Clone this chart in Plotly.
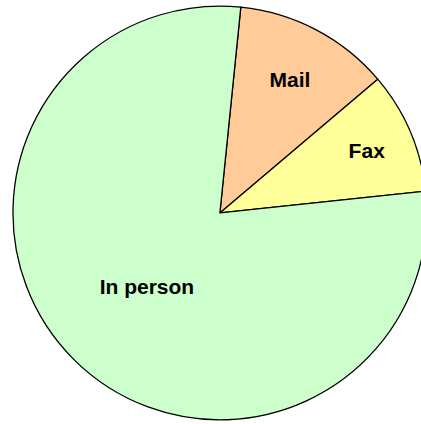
import plotly.graph_objects as go

# contact method shares
labels = ["Mail", "Fax", "In person"]
values = [12.2, 9.5, 78.3]
colors = ["#FFCC99", "#FFFF99", "#CCFFCC"]

fig = go.Figure(go.Pie(
    labels=labels, values=values, sort=False, direction="clockwise", rotation=5.8,
    marker=dict(colors=colors, line=dict(color="black", width=1.3)),
    textinfo="label", textposition="inside", insidetextorientation="horizontal",
    textfont=dict(family="Liberation Sans, Arial, sans-serif", size=21, color="black", weight="bold"),
    domain=dict(x=[0.0295, 0.970], y=[0.0094, 0.986]),
    hoverinfo="label+percent",
))
fig.update_layout(
    width=440, height=424, margin=dict(l=0, r=0, t=0, b=0),
    showlegend=False, paper_bgcolor="white", plot_bgcolor="white",
)
# the pie runs past the right edge of the window, like the original chart
fig.write_html("out.html", config={"displayModeBar": False}, post_script=(
    "document.body.style.margin='0';document.body.style.overflow='hidden';"
))
